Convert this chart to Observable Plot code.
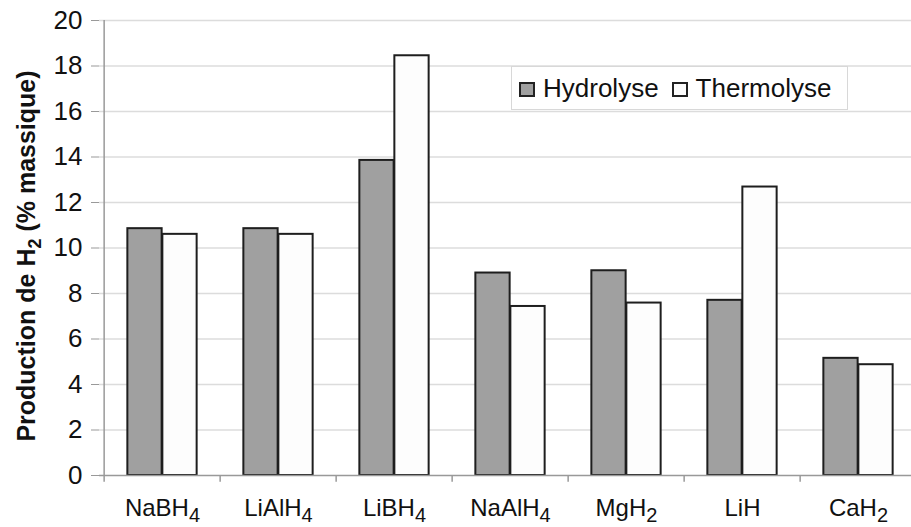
<!DOCTYPE html>
<html>
<head>
<meta charset="utf-8">
<script src="https://cdn.jsdelivr.net/npm/d3@7"></script>
<script src="https://cdn.jsdelivr.net/npm/@observablehq/plot@0.6"></script>
<style>
  html, body { margin: 0; padding: 0; background: #fff; }
  #wrap { position: relative; width: 911px; height: 527px; font-family: "Liberation Sans", Arial, sans-serif; }
  #legend { position: absolute; left: 511px; top: 66px; width: 337px; height: 44px; border: 1px solid #d8d8d8; background: #fff;
    display: flex; align-items: center; font-size: 26px; color: #111; box-sizing: border-box; padding-left: 7px; }
  .sw { width: 16px; height: 15px; border: 2px solid #222; box-sizing: border-box; margin-right: 8px; margin-top: 2px; }
  .item { display: flex; align-items: center; margin-right: 13px; }
</style>
</head>
<body>
<div id="wrap"></div>
<script>
const categories = ["NaBH4", "LiAlH4", "LiBH4", "NaAlH4", "MgH2", "LiH", "CaH2"];
const hydrolyse  = [10.85, 10.85, 13.85, 8.9, 9.0, 7.7, 5.15];
const thermolyse = [10.6, 10.6, 18.45, 7.43, 7.58, 12.68, 4.87];
const series = ["Hydrolyse", "Thermolyse"];
const yTicks = d3.range(0, 21, 2);
const yLabel = "Production de H2 (% massique)";

const rows = categories.flatMap((c, i) => [
  {cat: c, serie: series[0], value: hydrolyse[i]},
  {cat: c, serie: series[1], value: thermolyse[i]}
]);

const W = 911, H = 527;
const x0 = 101.5, x1 = 918.5;
const bw = (x1 - x0) / categories.length;
const half = bw / 2, barW = 35;
const fills = {Hydrolyse: "#a0a0a0", Thermolyse: "#fdfdfd"};

const chart = Plot.plot({
  width: W, height: H,
  marginLeft: 99, marginRight: 0, marginTop: 20, marginBottom: 52,
  style: {fontFamily: '"Liberation Sans", Arial, sans-serif', color: "#111", background: "#fff"},
  x: {domain: categories, range: [x0, x1], padding: 0, label: null},
  y: {domain: [0, 20], label: null},
  marks: [
    Plot.ruleY(yTicks.filter(d => d > 0), {y: d => d, stroke: "#dcdcdc", strokeWidth: 1.5}),
    Plot.barY(rows.filter(d => d.serie === "Hydrolyse"), {x: "cat", y: "value", fill: fills.Hydrolyse, stroke: "#1e1e1e", strokeWidth: 2,
      insetLeft: half - barW, insetRight: half}),
    Plot.barY(rows.filter(d => d.serie === "Thermolyse"), {x: "cat", y: "value", fill: fills.Thermolyse, stroke: "#1e1e1e", strokeWidth: 2,
      insetLeft: half, insetRight: half - barW}),
    Plot.ruleY([0], {y: d => d, stroke: "#999", strokeWidth: 1.5}),
    Plot.ruleX([categories[0]], {x: d => d, dx: -half, y1: 0, y2: 20, stroke: "#999", strokeWidth: 1.5}),
    Plot.ruleX(categories, {x: d => d, dx: -half, y1: -0.3, y2: 0, stroke: "#999", strokeWidth: 1.5}),
    Plot.axisY({ticks: yTicks, tickSize: 8, tickPadding: 9, fontSize: 26, stroke: "#999", fill: "#111", label: null}),
    Plot.axisX({tickSize: 0, tickPadding: 23, fontSize: 24, fill: "#111", label: null}),
    Plot.text([yLabel], {text: d => d, frameAnchor: "left", textAnchor: "middle", lineAnchor: "middle", dx: -73, dy: 8, rotate: -90, fontSize: 25, fontWeight: "bold", fill: "#111"})
  ]
});

// subscripts
function subscriptify(textEl, subSize, shift) {
  const s = textEl.textContent;
  const parts = s.split(/(\d)/).filter(p => p !== "");
  textEl.textContent = "";
  let inSub = false;
  for (const p of parts) {
    const t = document.createElementNS("http://www.w3.org/2000/svg", "tspan");
    t.textContent = p;
    const isDigit = /^\d$/.test(p);
    if (isDigit) {
      t.setAttribute("font-size", subSize);
      if (!inSub) t.setAttribute("dy", shift);
      inSub = true;
    } else {
      if (inSub) t.setAttribute("dy", -shift);
      inSub = false;
    }
    textEl.appendChild(t);
  }
}
d3.select(chart).selectAll('g[aria-label="x-axis tick label"] text').each(function() { subscriptify(this, 20, 6); });
d3.select(chart).selectAll('text').each(function() {
  if (this.textContent === yLabel) {
    this.textContent = "";
    const a = document.createElementNS("http://www.w3.org/2000/svg", "tspan");
    a.textContent = "Production de H";
    const b = document.createElementNS("http://www.w3.org/2000/svg", "tspan");
    b.textContent = "2"; b.setAttribute("font-size", 18); b.setAttribute("dy", 6);
    const c = document.createElementNS("http://www.w3.org/2000/svg", "tspan");
    c.textContent = " (% massique)"; c.setAttribute("dy", -6);
    this.append(a, b, c);
  }
});

const wrap = document.getElementById("wrap");
wrap.appendChild(chart);
const legend = document.createElement("div");
legend.id = "legend";
for (const s of series) {
  const item = document.createElement("div"); item.className = "item";
  const sw = document.createElement("div"); sw.className = "sw"; sw.style.background = fills[s];
  const lab = document.createElement("span"); lab.textContent = s;
  item.append(sw, lab);
  legend.appendChild(item);
}
wrap.appendChild(legend);
</script>
</body>
</html>
